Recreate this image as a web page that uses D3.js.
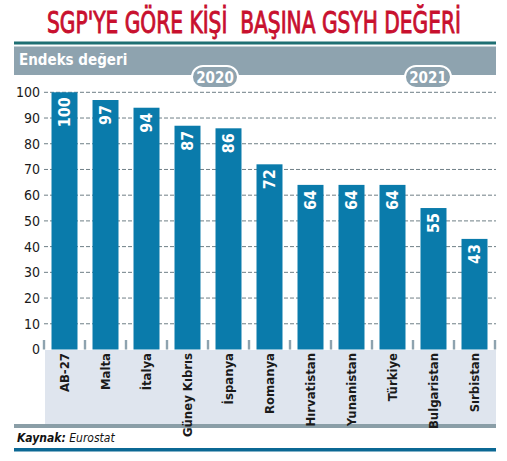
<!DOCTYPE html>
<html><head><meta charset="utf-8">
<script src="https://cdn.jsdelivr.net/npm/d3@7"></script>
<style>
html,body{margin:0;padding:0;background:#fff;}
svg{display:block;}
text{font-family:"DejaVu Sans Condensed","DejaVu Sans",sans-serif;font-stretch:condensed;}
</style></head>
<body>
<svg id="c" width="507" height="461"></svg>
<script>
const categories = ["AB-27","Malta","İtalya","Güney Kıbrıs","İspanya","Romanya","Hırvatistan","Yunanistan","Türkiye","Bulgaristan","Sırbistan"];
const values = [100,97,94,87,86,72,64,64,64,55,43];
const yTicks = [0,10,20,30,40,50,60,70,80,90,100];
const years = ["2020","2021"];
const title = "SGP'YE GÖRE KİŞİ  BAŞINA GSYH DEĞERİ";
const subtitle = "Endeks değeri";

const svg = d3.select("#c");
const L = 14, R = 496;
const x = d3.scaleBand().domain(categories).range([44, 495]).paddingInner(0.366).paddingOuter(0.183);
const y = d3.scaleLinear().domain([0, 100]).range([349.5, 92.3]);

// title (drawn at natural size, then squeezed horizontally to the reference width)
const tg = svg.append("g");
const tt = tg.append("text").attr("x", 0).attr("y", 0).attr("text-anchor", "middle")
  .attr("fill", "#c8102e").attr("stroke", "#c8102e").attr("stroke-width", 0.9)
  .attr("font-size", 30).attr("font-weight", "normal")
  .style("white-space", "pre").text(title);
const tw = tt.node().getComputedTextLength();
tg.attr("transform", `translate(254,33) scale(${414 / tw},1)`);

// teal line
svg.append("rect").attr("x", L).attr("y", 41.5).attr("width", R - L).attr("height", 3).attr("fill", "#1f6f73");
// grey header band
svg.append("rect").attr("x", L).attr("y", 46.5).attr("width", R - L).attr("height", 28.5).attr("fill", "#8ea3af");
svg.append("text").attr("x", 19).attr("y", 65).attr("fill", "#fff").attr("font-size", 15).attr("font-weight", "bold").text(subtitle);

// category band
svg.append("rect").attr("x", 45).attr("y", 350).attr("width", R - 45).attr("height", 74).attr("fill", "#dfe5ee");
svg.append("rect").attr("x", L).attr("y", 424).attr("width", R - L).attr("height", 4).attr("fill", "#8a9ea7");

// y axis + gridlines
const yAxis = d3.axisLeft(y).tickValues(yTicks).tickSize(0).tickPadding(0);
const yg = svg.append("g").attr("transform", "translate(40,0)").call(yAxis);
yg.select(".domain").remove();
yg.selectAll("text").attr("font-size", 14).attr("fill", "#1a1a1a").attr("x", 0);
svg.append("g").selectAll("line").data(yTicks.filter(d => d > 0)).join("line")
  .attr("x1", 44).attr("x2", R).attr("y1", d => y(d)).attr("y2", d => y(d))
  .attr("stroke", "#6f7f86").attr("stroke-width", 1).attr("stroke-dasharray", "4,2");

// small separator ticks
const seps = categories.map(c => x(c) - x.step() * x.paddingInner() / 2).concat([x(categories[categories.length-1]) + x.bandwidth() + x.step()*x.paddingInner()/2]);
svg.append("g").selectAll("rect").data(seps).join("rect")
  .attr("x", d => d - 1.2).attr("y", 340).attr("width", 2.4).attr("height", 9.5).attr("fill", "#8ea3af");

// bars
svg.append("g").selectAll("rect").data(values).join("rect")
  .attr("x", (d, i) => x(categories[i])).attr("y", d => y(d))
  .attr("width", x.bandwidth()).attr("height", d => y(0) - y(d))
  .attr("fill", "#0a7bab");

// value labels
svg.append("g").selectAll("text").data(values).join("text")
  .attr("transform", (d, i) => `translate(${x(categories[i]) + x.bandwidth() / 2},${y(d) + 5}) rotate(-90)`)
  .attr("text-anchor", "end").attr("dy", "0.36em")
  .attr("fill", "#fff").attr("font-size", 16).attr("font-weight", "bold").text(d => d);

// category labels
svg.append("g").selectAll("text").data(categories).join("text")
  .attr("transform", d => `translate(${x(d) + x.bandwidth() / 2},353) rotate(-90)`)
  .attr("text-anchor", "end").attr("dy", "0.36em")
  .attr("fill", "#1a1a1a").attr("font-size", 13).attr("font-weight", "bold").text(d => d);

// year pills
const pillX = [215, 428];
years.forEach((yr, i) => {
  svg.append("rect").attr("x", pillX[i] - 23).attr("y", 66).attr("width", 46).attr("height", 22).attr("rx", 11)
    .attr("fill", "#8ea3af").attr("stroke", "#fff").attr("stroke-width", 2);
  svg.append("text").attr("x", pillX[i]).attr("y", 83).attr("text-anchor", "middle")
    .attr("fill", "#fff").attr("font-size", 15).attr("font-weight", "bold").text(yr);
});

// source
const src = svg.append("text").attr("x", 17).attr("y", 442).attr("font-size", 12).attr("font-style", "italic").attr("fill", "#111");
src.append("tspan").attr("font-weight", "bold").text("Kaynak:");
src.append("tspan").text(" Eurostat");
svg.append("rect").attr("x", L).attr("y", 448).attr("width", R - L).attr("height", 3.5).attr("fill", "#0b6894");
</script>
</body></html>
